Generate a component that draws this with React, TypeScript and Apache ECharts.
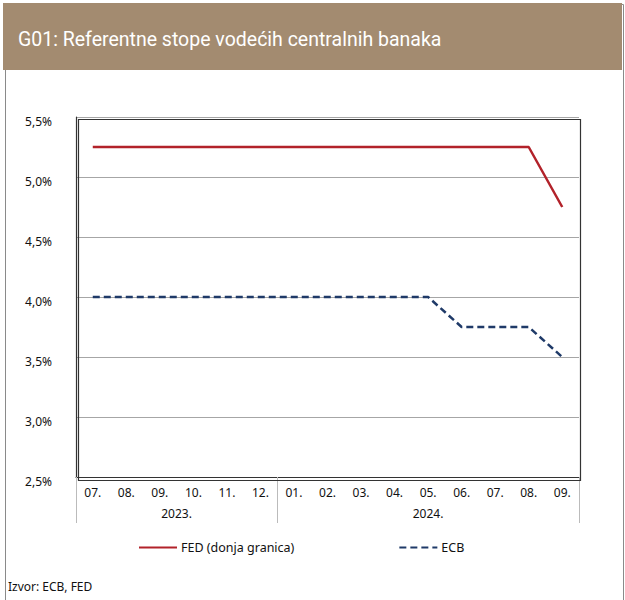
import React, { useEffect, useRef } from "react";
import * as echarts from "echarts";

const months = ["07.", "08.", "09.", "10.", "11.", "12.", "01.", "02.", "03.", "04.", "05.", "06.", "07.", "08.", "09."];
const years = ["2023.", "2024."];
const yearSpans = [6, 9];
const fedValues = [5.25, 5.25, 5.25, 5.25, 5.25, 5.25, 5.25, 5.25, 5.25, 5.25, 5.25, 5.25, 5.25, 5.25, 4.75];
const ecbValues = [4.0, 4.0, 4.0, 4.0, 4.0, 4.0, 4.0, 4.0, 4.0, 4.0, 4.0, 3.75, 3.75, 3.75, 3.5];
const seriesNames = ["FED (donja granica)", "ECB"];
const titleText = "G01: Referentne stope vodećih centralnih banaka";
const sourceText = "Izvor: ECB, FED";

const FONT = "'Noto Sans', sans-serif";

export default function App() {
  const ref = useRef<HTMLDivElement>(null);
  useEffect(() => {
    if (!ref.current) return;
    const chart = echarts.init(ref.current, null, { renderer: "svg" });
    const boundaries = [0];
    yearSpans.forEach((s) => boundaries.push(boundaries[boundaries.length - 1] + s));
    const yearCenters = yearSpans.map((s, i) => boundaries[i] + s / 2);
    chart.setOption({
      animation: false,
      backgroundColor: "#ffffff",
      textStyle: { fontFamily: FONT },
      grid: { left: 76, right: 46, top: 117, bottom: 123, containLabel: false, show: false },
      graphic: [
        { type: "rect", left: 3, top: 2, shape: { width: 618, height: 596 }, style: { fill: "none", stroke: "#8a8a8a", lineWidth: 1 }, silent: true },
        { type: "rect", left: 3, top: 3, shape: { width: 619, height: 67 }, style: { fill: "#A38B70" }, silent: true },
        { type: "text", left: 18, top: 29, style: { text: titleText, fill: "#ffffff", font: "19.5px Roboto, sans-serif" } },
        { type: "text", left: 8, top: 580, style: { text: sourceText, fill: "#111", font: "12px " + FONT } },
        { type: "rect", left: 76, top: 117, shape: { width: 502, height: 361 }, style: { fill: "none", stroke: "#333", lineWidth: 1.2 }, silent: true, z: 10 },
      ],
      legend: {
        left: 138,
        top: 541,
        padding: 0,
        itemWidth: 38,
        itemHeight: 3,
        itemGap: 104,
        itemStyle: { opacity: 0 },
        textStyle: { fontFamily: FONT, fontSize: 12.5, color: "#111", padding: [0, 0, 0, -1] },
        data: seriesNames,
      },
      xAxis: [
        {
          type: "category",
          data: months,
          boundaryGap: true,
          axisLine: { show: true, lineStyle: { color: "#333", width: 1.2 } },
          axisTick: {
            show: true,
            length: 46,
            interval: (i: number) => boundaries.indexOf(i) >= 0,
            lineStyle: { color: "#bbb" },
          },
          axisLabel: { interval: 0, fontSize: 12, color: "#111", margin: 9, fontFamily: FONT },
          splitLine: { show: false },
        },
        {
          type: "value",
          position: "bottom",
          min: 0,
          max: boundaries[boundaries.length - 1],
          interval: 0.5,
          offset: 22,
          axisLine: { show: false },
          axisTick: { show: false },
          splitLine: { show: false },
          axisLabel: {
            fontSize: 12,
            color: "#111",
            margin: 8,
            fontFamily: FONT,
            showMinLabel: true,
            showMaxLabel: true,
            formatter: (v: number) => {
              const idx = yearCenters.findIndex((c) => Math.abs(c - v) < 1e-6);
              return idx >= 0 ? years[idx] : "";
            },
          },
        },
      ],
      yAxis: {
        type: "value",
        min: 2.5,
        max: 5.5,
        interval: 0.5,
        axisLine: { show: true, lineStyle: { color: "#333", width: 1.2 } },
        axisTick: { show: false },
        splitLine: { show: true, lineStyle: { color: "#a6a6a6", width: 1 } },
        axisLabel: {
          fontSize: 12,
          color: "#111",
          margin: 24,
          verticalAlign: "top",
          lineHeight: 8,
          fontFamily: FONT,
          formatter: (v: number) => v.toFixed(1).replace(".", ",") + "%",
        },
      },
      series: [
        {
          name: seriesNames[0],
          type: "line",
          data: fedValues,
          symbol: "none",
          lineStyle: { color: "#B2222A", width: 2.5 },
          itemStyle: { color: "#B2222A" },
          z: 5,
        },
        {
          name: seriesNames[1],
          type: "line",
          data: ecbValues,
          symbol: "none",
          lineStyle: { color: "#1F3A68", width: 2.5, type: [7, 4] },
          itemStyle: { color: "#1F3A68" },
          z: 5,
        },
      ],
    });
    return () => chart.dispose();
  }, []);
  return (
    <div style={{ position: "absolute", left: 0, top: 0, width: 625, height: 600, background: "#fff" }}>
      <div ref={ref} style={{ width: 625, height: 600 }} />
    </div>
  );
}
